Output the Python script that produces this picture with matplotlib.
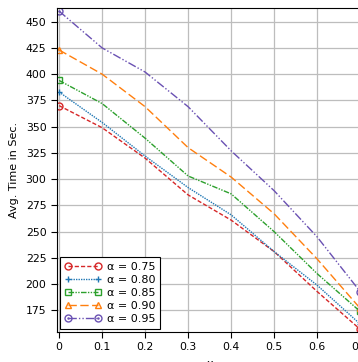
import matplotlib
matplotlib.use("Agg")
import matplotlib.pyplot as plt
from matplotlib.path import Path

x = [0.0, 0.1, 0.2, 0.3, 0.4, 0.5, 0.6, 0.7]

t_075 = [370, 349, 320, 285, 261, 231, 193, 157]
t_080 = [383, 354, 322, 292, 266, 231, 199, 162]
t_085 = [394, 372, 339, 303, 286, 250, 210, 174]
t_090 = [423, 400, 369, 330, 302, 267, 224, 177]
t_095 = [460, 425, 402, 369, 327, 289, 245, 193]

labels = ["α = 0.75", "α = 0.80", "α = 0.85", "α = 0.90", "α = 0.95"]

# circle with a dot in the middle
circ = Path.unit_circle()
dot = Path(circ.vertices * 0.15, circ.codes)
odot = Path.make_compound_path(circ, dot)

fig = plt.figure(figsize=(3.58, 3.62), dpi=100)
ax = fig.add_axes([0.159, 0.083, 0.853, 0.895])

styles = [
    dict(color="#d62728", linestyle=(0, (3, 1.5)), marker="o"),
    dict(color="#1f77b4", linestyle=(0, (1, 0.8)), marker="+"),
    dict(color="#2ca02c", linestyle=(0, (4, 1, 1, 1, 1, 1)), marker="s"),
    dict(color="#ff7f0e", linestyle=(0, (6, 2.5)), marker="^"),
    dict(color="#6a51b3", linestyle=(0, (6, 1.5, 1, 1.5, 1, 1.5)), marker=odot),
]

for ys, lab, st in zip([t_075, t_080, t_085, t_090, t_095], labels, styles):
    ax.plot(x, ys, color=st["color"], linestyle=st["linestyle"], linewidth=1.0,
            marker=st["marker"], markersize=5, markerfacecolor="none",
            markeredgewidth=1.0, markeredgecolor=st["color"],
            markevery=[0, len(x) - 1], label=lab)

ax.set_xlim(-0.005, 0.705)
ax.set_ylim(154.5, 463)
ax.set_xticks([0, 0.1, 0.2, 0.3, 0.4, 0.5, 0.6, 0.7])
ax.set_xticklabels(["0", "0.1", "0.2", "0.3", "0.4", "0.5", "0.6", "0.7"])
ax.set_yticks(range(175, 451, 25))
ax.tick_params(labelsize=7.8, length=4)
ax.grid(True, color="#bdbdbd", linewidth=0.9)
ax.set_axisbelow(True)
ax.set_xlabel("x", fontsize=8, labelpad=5)
ax.set_ylabel("Avg. Time in Sec.", fontsize=8, labelpad=5)

leg = ax.legend(loc="lower left", fontsize=8, numpoints=2, handlelength=3.3,
                fancybox=False, framealpha=1, edgecolor="black",
                borderpad=0.4, labelspacing=0.28, handletextpad=0.5,
                borderaxespad=0.3)
leg.get_frame().set_linewidth(0.8)

fig.savefig("out.png", dpi=100)
